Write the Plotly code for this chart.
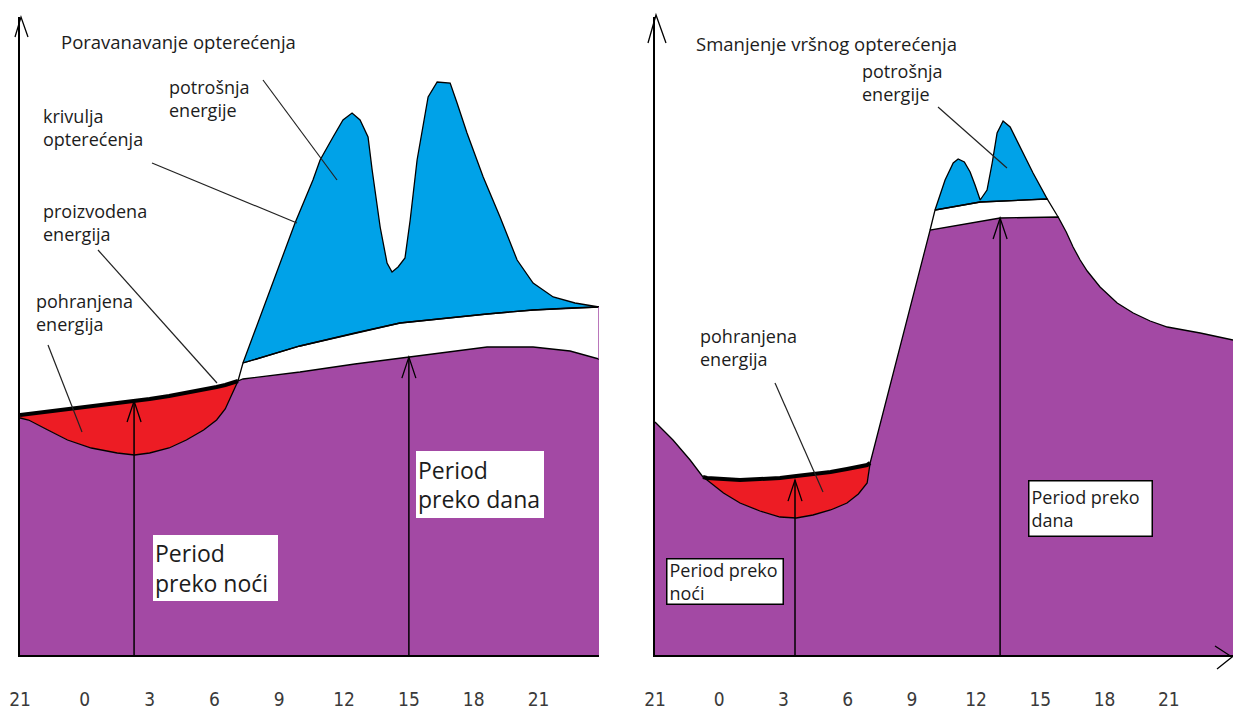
import numpy as np
import plotly.graph_objects as go

W, H = 1234, 709

# ---------------- data (hours on x, relative load on y) ----------------
tick_vals = [-3, 0, 3, 6, 9, 12, 15, 18, 21]
tick_text = ["21", "0", "3", "6", "9", "12", "15", "18", "21"]

# Left panel – "Poravanavanje opterećenja"
L_night_h = [-3.0, -2.6, -1.8, -0.8, 0.3, 1.5, 2.3, 3.0, 3.9, 4.7, 5.5, 6.1, 6.5, 6.85, 7.09]
L_night_prod = [240, 241, 243, 246, 249, 252, 254, 256, 259, 262, 265, 268, 270, 272, 274]
L_night_load = [237, 235, 226, 215, 207, 202, 200, 202, 207, 215, 225, 235, 246, 262, 274]

L_day_h = [7.09, 7.32, 9.96, 12.5, 15.06, 18.62, 20.75, 22.46, 23.8]
L_day_base = [274, 276, 283, 291, 298, 308, 308, 304, 296]
L_day_supply_h = [7.09, 7.32, 9.96, 12.5, 14.59, 18.62, 20.75, 22.46, 23.8]
L_day_supply = [274, 292, 309, 322, 332, 341, 345, 347, 348]

L_peak_h = [7.32, 8.5, 9.73, 10.56, 10.89, 11.49, 11.95, 12.37, 12.74, 13.11, 13.30,
            13.67, 13.99, 14.22, 14.50, 14.82, 15.06, 15.38, 15.89, 16.31, 16.91, 17.23,
            17.69, 18.44, 19.22, 20.01, 20.75, 21.68, 22.69, 23.8]
L_peak_v = [292, 360, 432, 475, 495, 518, 535, 542, 535, 518, 485,
            428, 392, 383, 388, 397, 435, 495, 558, 573, 572, 552,
            522, 478, 438, 395, 372, 358, 352, 348]

# Right panel – "Smanjenje vršnog opterećenja"
R_base_h = [-3.0, -2.16, -1.36, -0.76, -0.57, 0.2, 0.97, 1.9, 2.84, 3.6, 4.38, 5.2, 5.97,
            6.5, 6.91, 7.05, 9.85, 13.12, 15.83, 16.21, 16.53, 16.86, 17.19, 17.79, 18.59,
            19.34, 20.13, 20.93, 22.47, 24.0]
R_base_v = [233, 215, 195, 178, 175, 162, 152, 144, 138, 137, 140, 145, 152,
            161, 172, 192, 425, 437, 438, 423, 408, 395, 384, 368, 352,
            342, 334, 328, 322, 315]

R_night_h = [-0.76, -0.57, 0.2, 0.97, 1.9, 2.84, 3.6, 4.38, 5.2, 5.97, 6.5, 6.91, 7.05]
R_night_prod = [178, 177, 176, 175, 176, 177, 179, 181, 183, 186, 188, 190, 192]

R_supply_h = [9.85, 10.08, 12.19, 15.32, 15.83]
R_supply_v = [425, 445, 453, 456, 438]

R_peak_h = [10.08, 10.55, 10.93, 11.16, 11.45, 11.72, 11.95, 12.19, 12.51, 12.75,
            12.98, 13.26, 13.59, 14.06, 14.66, 15.32]
R_peak_v = [445, 475, 492, 496, 493, 483, 470, 455, 465, 492,
            522, 534, 528, 508, 482, 456]

# vertical arrows (hour positions)
L_arrow_night_h, L_arrow_day_h = 2.28, 15.0
R_arrow_night_h, R_arrow_day_h = 3.54, 13.12

# ---------------- styles ----------------
PURPLE = "#A349A4"
RED = "#ED1C24"
BLUE = "#00A2E8"
INK = "#000000"
TXT = "#1c1c1c"
FONT = "Open Sans, Noto Sans, sans-serif"

fig = go.Figure()


def P(x, y):
    return x / W, 1 - y / H


def panel(xa, ya, base_h, base_v, prod_h, prod_v, sup_h, sup_v, peak_h, peak_v):
    kw = dict(xaxis=xa, yaxis=ya, hoverinfo="skip", showlegend=False, mode="lines")
    base_h = np.asarray(base_h, float)
    base_v = np.asarray(base_v, float)
    prod_h = np.asarray(prod_h, float)
    prod_v = np.asarray(prod_v, float)
    sup_h = np.asarray(sup_h, float)
    sup_v = np.asarray(sup_v, float)
    # purple base
    fig.add_trace(go.Scatter(x=base_h, y=base_v, fill="tozeroy", fillcolor=PURPLE,
                             line=dict(width=0, color=PURPLE), **kw))
    # red stored energy
    low = np.interp(prod_h, base_h, base_v)
    fig.add_trace(go.Scatter(x=np.r_[prod_h, prod_h[::-1]], y=np.r_[prod_v, low[::-1]],
                             fill="toself", fillcolor=RED, line=dict(width=0, color=RED), **kw))
    # blue consumption peaks
    m = (sup_h >= peak_h[0] - 1e-9) & (sup_h <= peak_h[-1] + 1e-9)
    bh, bv = sup_h[m], sup_v[m]
    fig.add_trace(go.Scatter(x=np.r_[peak_h, bh[::-1]], y=np.r_[peak_v, bv[::-1]],
                             fill="toself", fillcolor=BLUE, line=dict(width=1.3, color=INK), **kw))
    # outlines
    fig.add_trace(go.Scatter(x=base_h, y=base_v, line=dict(width=1.3, color=INK), **kw))
    fig.add_trace(go.Scatter(x=sup_h, y=sup_v, line=dict(width=1.3, color=INK), **kw))
    fig.add_trace(go.Scatter(x=prod_h, y=prod_v, line=dict(width=4, color=INK), **kw))


L_base_h = L_night_h + L_day_h[1:]
L_base_v = L_night_load + L_day_base[1:]
panel("x", "y", L_base_h, L_base_v, L_night_h, L_night_prod,
      L_day_supply_h, L_day_supply, L_peak_h, L_peak_v)
# thin purple edge closing the white band on the left panel
fig.add_trace(go.Scatter(x=[L_day_h[-1], L_day_h[-1]], y=[L_day_base[-1], L_day_supply[-1]],
                         mode="lines", line=dict(width=1.5, color=PURPLE),
                         hoverinfo="skip", showlegend=False, xaxis="x", yaxis="y"))
panel("x2", "y2", R_base_h, R_base_v, R_night_h, R_night_prod,
      R_supply_h, R_supply_v, R_peak_h, R_peak_v)

# ---------------- axes ----------------
ydom = [(H - 655) / H, (H - 17) / H]
common = dict(showgrid=False, zeroline=False, showline=True, linecolor=INK, linewidth=1.5,
              ticks="", fixedrange=True, automargin=False)
xtick = dict(tickvals=tick_vals, ticktext=tick_text, ticklabelstandoff=26,
             tickfont=dict(family="Liberation Sans Narrow, DejaVu Sans Condensed, sans-serif",
                           size=19, color="#3a3a3a"))
fig.update_layout(
    width=W, height=H, margin=dict(l=0, r=0, t=0, b=0, autoexpand=False),
    paper_bgcolor="white", plot_bgcolor="white", showlegend=False,
    xaxis=dict(domain=[20 / W, 599 / W], range=[-3, 23.8], anchor="y", **xtick, **common),
    yaxis=dict(domain=ydom, range=[0, 638], anchor="x", showticklabels=False, **common),
    xaxis2=dict(domain=[655 / W, 1233 / W], range=[-3, 24.0], anchor="y2", **xtick, **common),
    yaxis2=dict(domain=ydom, range=[0, 638], anchor="x2", showticklabels=False, **common),
)

shapes = []


def vert_arrow(xa, ya, h, curve_h, curve_v, gap, px_per_h):
    tip = float(np.interp(h, curve_h, curve_v)) - gap
    dx = 7 / px_per_h
    shapes.append(dict(type="line", xref=xa, yref=ya, x0=h, y0=0, x1=h, y1=tip,
                       line=dict(color=INK, width=1.5)))
    shapes.append(dict(type="path", xref=xa, yref=ya,
                       path=f"M {h - dx},{tip - 21} L {h},{tip} L {h + dx},{tip - 21}",
                       line=dict(color=INK, width=1.3)))


pph_L = (599 - 20) / (23.8 + 3)
pph_R = (1233 - 655) / (24.0 + 3)
vert_arrow("x", "y", L_arrow_night_h, L_night_h, L_night_prod, 0, pph_L)
vert_arrow("x", "y", L_arrow_day_h, L_base_h, L_base_v, 0, pph_L)
vert_arrow("x2", "y2", R_arrow_night_h, R_night_h, R_night_prod, 4, pph_R)
vert_arrow("x2", "y2", R_arrow_day_h, R_base_h, R_base_v, 0, pph_R)

# axis arrowheads (paper / pixel layout)
for (tx, ty), (ax1, ay1), (ax2, ay2) in [
    ((21, 17), (15, 37), (28, 37)),
    ((656, 15), (648, 43), (666, 43)),
    ((1232, 657), (1215, 646), (1217, 669)),
]:
    a, b, c = P(ax1, ay1), P(tx, ty), P(ax2, ay2)
    shapes.append(dict(type="path", xref="paper", yref="paper",
                       path=f"M {a[0]},{a[1]} L {b[0]},{b[1]} L {c[0]},{c[1]}",
                       line=dict(color=INK, width=1.3)))

# leader lines from labels
for (x1, y1), (x2, y2) in [
    ((263, 80), (337, 180)),
    ((152, 163), (297, 223)),
    ((98, 250), (217, 383)),
    ((48, 345), (82, 432)),
    ((938, 107), (1007, 168)),
    ((775, 383), (823, 492)),
]:
    a, b = P(x1, y1), P(x2, y2)
    shapes.append(dict(type="line", xref="paper", yref="paper", x0=a[0], y0=a[1], x1=b[0], y1=b[1],
                       line=dict(color="#222222", width=1.2)))

fig.update_layout(shapes=shapes)

# ---------------- texts ----------------
ann = []
for text, (x, y), size in [
    ("Poravanavanje opterećenja", (59, 41), 18.5),
    ("potrošnja<br>energije", (167, 98), 18),
    ("krivulja<br>opterećenja", (41, 128), 18),
    ("proizvodena<br>energija", (41, 223), 18),
    ("pohranjena<br>energija", (34, 312), 18),
    ("Smanjenje vršnog opterećenja", (694, 43), 18.5),
    ("potrošnja<br>energije", (860, 82), 18),
    ("pohranjena<br>energija", (698, 347), 18),
]:
    px_, py_ = P(x, y)
    ann.append(dict(text=text, x=px_, y=py_, xref="paper", yref="paper", xanchor="left",
                    yanchor="middle", align="left", showarrow=False,
                    font=dict(family=FONT, size=size, color=TXT)))

for text, (cx, cy), (bw, bh), size, border in [
    ("Period<br>preko noći", (215.5, 568), (125, 66), 23, 0),
    ("Period<br>preko dana", (480, 484.5), (128, 67), 23, 0),
    ("Period preko<br>noći", (725, 581.5), (118, 47), 18, 1.5),
    ("Period preko<br>dana", (1090.5, 508.5), (125, 57), 18, 1.5),
]:
    px_, py_ = P(cx, cy)
    ann.append(dict(text=text, x=px_, y=py_, xref="paper", yref="paper", xanchor="center",
                    yanchor="middle", align="left", valign="middle", showarrow=False,
                    width=bw - 4 - 2 * border, height=bh - 4 - 2 * border, borderpad=2,
                    bgcolor="white", bordercolor=INK if border else "white", borderwidth=border,
                    font=dict(family=FONT, size=size, color=TXT)))
fig.update_layout(annotations=ann)

fig.write_html("out.html", config={"displayModeBar": False},
               post_script="document.body.style.margin='0px';document.body.style.overflow='hidden';")
